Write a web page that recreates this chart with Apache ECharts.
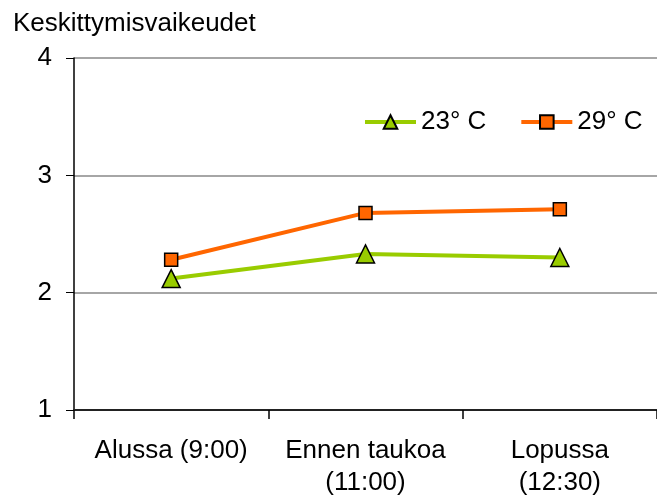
<!DOCTYPE html>
<html>
<head>
<meta charset="utf-8">
<script src="https://cdn.jsdelivr.net/npm/echarts@6/dist/echarts.min.js"></script>
<style>
  html, body { margin: 0; padding: 0; background: #fff; }
  #chart { width: 657px; height: 499px; }
</style>
</head>
<body>
<div id="chart"></div>
<script>
// Time points of the working session
const categories = ['Alussa (9:00)', 'Ennen taukoa\n(11:00)', 'Lopussa\n(12:30)'];
// Mean concentration difficulty at each temperature
const seriesNames = ['23° C', '29° C'];
const values23 = [2.12, 2.33, 2.30];
const values29 = [2.28, 2.68, 2.71];
const yTicks = [1, 2, 3, 4];

const FONT = 'Liberation Sans, Arial, sans-serif';
const chart = echarts.init(document.getElementById('chart'));

chart.setOption({
  animation: false,
  textStyle: { fontFamily: FONT },
  title: {
    text: 'Keskittymisvaikeudet',
    left: 8,
    top: 6,
    textStyle: { fontFamily: FONT, fontSize: 26, fontWeight: 'normal', color: '#000' }
  },
  legend: {
    data: seriesNames,
    left: 363,
    top: 109,
    padding: 0,
    itemWidth: 51,
    itemHeight: 17,
    itemGap: 33,
    lineStyle: { width: 4 },
    textStyle: { fontFamily: FONT, fontSize: 26, color: '#000' }
  },
  grid: { left: 74, top: 58, right: -9, bottom: 87, containLabel: false },
  xAxis: {
    type: 'category',
    data: categories,
    boundaryGap: true,
    axisLine: { lineStyle: { color: '#222', width: 2 } },
    axisTick: { show: true, length: 9, lineStyle: { color: '#000', width: 1.5 } },
    axisLabel: {
      interval: 0,
      margin: 25,
      fontFamily: FONT,
      fontSize: 26,
      lineHeight: 32,
      color: '#000'
    }
  },
  yAxis: {
    type: 'value',
    min: yTicks[0],
    max: yTicks[yTicks.length - 1],
    interval: 1,
    axisLine: { show: true, lineStyle: { color: '#000', width: 1.5 } },
    axisTick: { show: true, length: 8, lineStyle: { color: '#000' } },
    axisLabel: { margin: 22, fontFamily: FONT, fontSize: 26, color: '#000' },
    splitLine: { show: true, lineStyle: { color: '#888', width: 1.5 } }
  },
  series: [
    {
      name: seriesNames[0],
      type: 'line',
      data: values23,
      symbol: 'triangle',
      symbolSize: 18,
      lineStyle: { color: '#99CC00', width: 4 },
      itemStyle: { color: '#99CC00', borderColor: '#000', borderWidth: 1.5 },
      z: 2
    },
    {
      name: seriesNames[1],
      type: 'line',
      data: values29,
      symbol: 'rect',
      symbolSize: 13,
      lineStyle: { color: '#FF6600', width: 4 },
      itemStyle: { color: '#FF6600', borderColor: '#000', borderWidth: 1.5 },
      z: 3
    }
  ]
});
</script>
</body>
</html>
